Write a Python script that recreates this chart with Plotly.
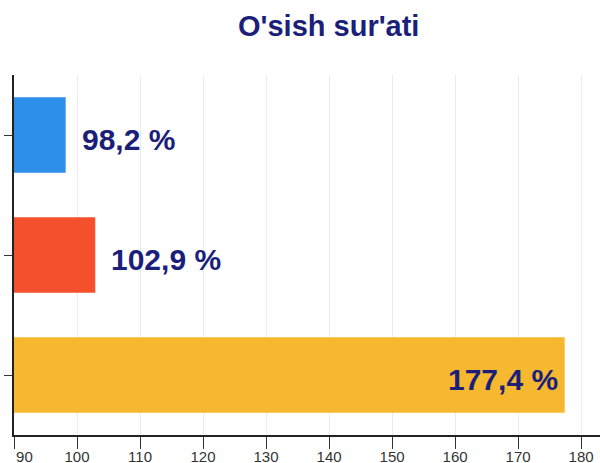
import plotly.graph_objects as go

categories = ["A", "B", "C"]
values = [98.2, 102.9, 177.4]
labels = ["98,2 %", "102,9 %", "177,4 %"]
colors = ["#2E8FEA", "#F4502B", "#F5B82E"]
tick_vals = [90, 100, 110, 120, 130, 140, 150, 160, 170, 180]
tick_text = ["\u00a0\u00a0\u00a0\u00a0\u00a090", "100", "110", "120", "130", "140", "150", "160", "170", "180"]
title_text = "O'sish sur'ati"

navy = "#1B1F7A"
BASE = 90

fig = go.Figure()
fig.add_trace(go.Bar(
    y=categories, x=[v - BASE for v in values], base=BASE, orientation="h",
    marker=dict(color=colors, line=dict(width=0)),
    width=0.63, hoverinfo="skip",
))

annotations = []
for c, v, t in zip(categories, values, labels):
    inside = v > 150
    annotations.append(dict(
        x=v, y=c, xref="x", yref="y", text=t, showarrow=False,
        xanchor="right" if inside else "left",
        xshift=-5 if inside else 14, yshift=-4,
        font=dict(family="Liberation Sans, Arial", size=30, color=navy, weight="bold"),
    ))
annotations.append(dict(
    x=(328 - 14) / 586, y=(435 - 26) / 360, xref="x domain", yref="y domain",
    text=title_text, showarrow=False, xanchor="center", yanchor="middle",
    font=dict(family="Liberation Sans, Arial", size=29, color=navy, weight="bold"),
))

fig.update_layout(
    width=600, height=463,
    margin=dict(l=14, r=0, t=75, b=28, autoexpand=False),
    paper_bgcolor="white", plot_bgcolor="white",
    showlegend=False,
    annotations=annotations,
)
fig.update_xaxes(
    range=[90, 183], tickvals=tick_vals, ticktext=tick_text,
    showgrid=True, gridcolor="#EBEBEB", gridwidth=1,
    showline=True, linecolor="#222222", linewidth=2,
    ticks="outside", ticklen=12, tickcolor="#333333", tickwidth=1,
    tickfont=dict(family="Liberation Sans, Arial", size=15, color="#333333"),
    ticklabelstandoff=-5, ticklabeloverflow="allow",
    zeroline=False, fixedrange=True, automargin=False,
)
fig.update_yaxes(
    categoryorder="array", categoryarray=categories, autorange="reversed",
    showgrid=False, showline=True, linecolor="#222222", linewidth=2,
    ticks="outside", ticklen=8, tickcolor="#333333", tickwidth=1,
    showticklabels=False, zeroline=False, fixedrange=True, automargin=False,
)

fig.write_html(
    "out.html",
    config={"displayModeBar": False},
    post_script="document.body.style.margin='0';document.body.style.overflow='hidden';",
)
